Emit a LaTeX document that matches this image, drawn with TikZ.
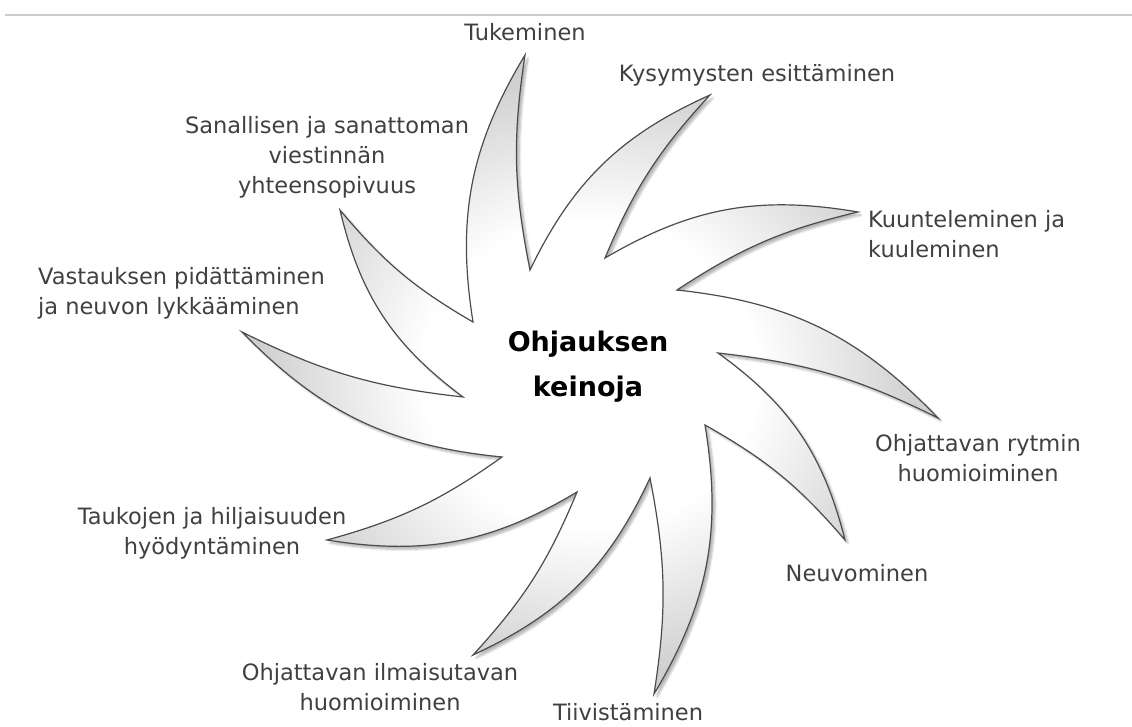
\documentclass[tikz,border=0pt]{standalone}
\usepackage{fontspec}
\setmainfont{DejaVu Sans}
\usetikzlibrary{shadows.blur}
\pgfdeclareradialshading{bladeshade}{\pgfpoint{0bp}{0bp}}{color(0bp)=(white); color(12bp)=(white); color(24bp)=(gray!38); color(50bp)=(gray!38)}

\begin{document}
\begin{tikzpicture}[x=1pt,y=-1pt]
\tikzset{lab/.style={text=black!75, font=\fontsize{22.5}{30}\selectfont, align=center, inner sep=0pt}}
\useasboundingbox (0,0) rectangle (1132,727);
\draw[gray!40, line width=1.5pt] (5,15) -- (1132,15);

% inner corners and tips of the star
\coordinate (v0) at (473,322);
\coordinate (t0) at (525,55);
\coordinate (v1) at (530,270);
\coordinate (t1) at (710,95);
\coordinate (v2) at (605,258);
\coordinate (t2) at (858,212);
\coordinate (v3) at (677,290);
\coordinate (t3) at (938,418);
\coordinate (v4) at (718,353);
\coordinate (t4) at (845,540);
\coordinate (v5) at (705,425);
\coordinate (t5) at (654,694);
\coordinate (v6) at (650,478);
\coordinate (t6) at (473,655);
\coordinate (v7) at (577,492);
\coordinate (t7) at (327,540);
\coordinate (v8) at (502,457);
\coordinate (t8) at (242,332);
\coordinate (v9) at (463,397);
\coordinate (t9) at (340,210);

\draw[line width=1.2pt, draw=black!70, shading=bladeshade,
  blur shadow={shadow xshift=3pt, shadow yshift=-3pt, shadow blur steps=6, shadow opacity=30}]
  (v0) to[bend left=20] (t0) to[bend right=10] (v1)
  to[bend left=20] (t1) to[bend right=10] (v2)
  to[bend left=20] (t2) to[bend right=10] (v3)
  to[bend left=20] (t3) to[bend right=10] (v4)
  to[bend left=20] (t4) to[bend right=10] (v5)
  to[bend left=20] (t5) to[bend right=10] (v6)
  to[bend left=20] (t6) to[bend right=10] (v7)
  to[bend left=20] (t7) to[bend right=10] (v8)
  to[bend left=20] (t8) to[bend right=10] (v9)
  to[bend left=20] (t9) to[bend right=10] (v0) -- cycle;

\node[font=\bfseries\fontsize{27}{45}\selectfont, align=center] (ohj) at (588,367) {Ohjauksen\\keinoja};

\node[lab] (tuk) at (525,32) {Tukeminen};
\node[lab] (kys) at (757,75) {Kysymysten esittäminen};
\node[lab, align=left, anchor=west] (kuu) at (868,234) {Kuunteleminen ja\\kuuleminen};
\node[lab] (ryt) at (978,458) {Ohjattavan rytmin\\huomioiminen};
\node[lab] (neu) at (857,573) {Neuvominen};
\node[lab] (tii) at (628,712) {Tiivistäminen};
\node[lab] (ilm) at (380,687) {Ohjattavan ilmaisutavan\\huomioiminen};
\node[lab] (tau) at (212,533) {Taukojen ja hiljaisuuden\\hyödyntäminen};
\node[lab, align=left, anchor=west] (vas) at (38,293) {Vastauksen pidättäminen\\ja neuvon lykkääminen};
\node[lab] (san) at (327,157) {Sanallisen ja sanattoman\\viestinnän\\yhteensopivuus};
\end{tikzpicture}
\end{document}
